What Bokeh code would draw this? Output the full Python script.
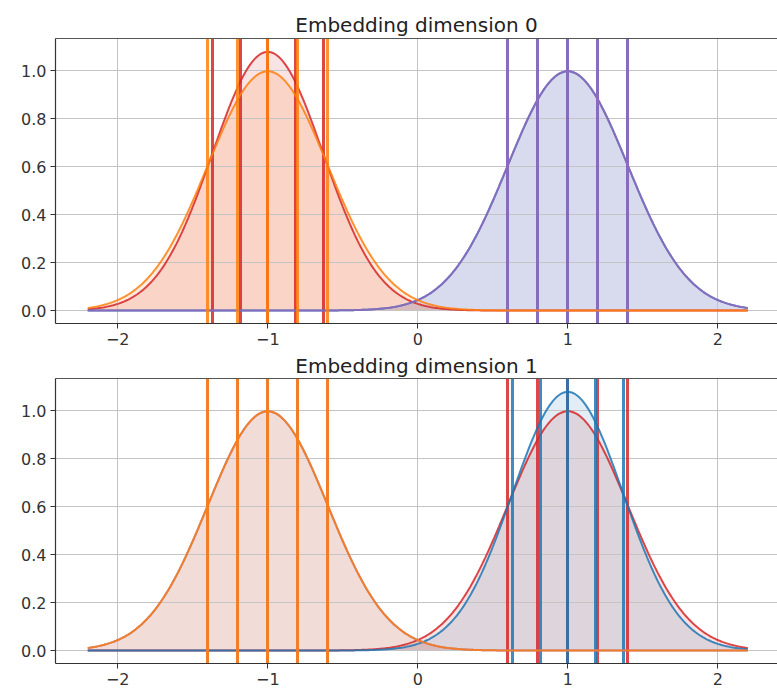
import numpy as np
from bokeh.plotting import figure
from bokeh.models import Range1d, FixedTicker, LinearAxis, Title, PrintfTickFormatter, Grid
from bokeh.layouts import column
from bokeh.embed import file_html
from bokeh.resources import INLINE

# ---- data ----
classes = ["red", "blue", "purple", "orange"]
class_colors = ["#d62728", "#1f77b4", "#9467bd", "#ff7f0e"]
means_dim0 = [-1.0, 1.0, 1.0, -1.0]
sigmas_dim0 = [0.37, 0.40, 0.40, 0.40]
means_dim1 = [1.0, 1.0, -1.0, -1.0]
sigmas_dim1 = [0.40, 0.37, 0.40, 0.40]
line_offsets = [-1.0, -0.5, 0.0, 0.5, 1.0]   # vertical lines at mean + k*sigma
x_ticks = [-2, -1, 0, 1, 2]
y_ticks = [0.0, 0.2, 0.4, 0.6, 0.8, 1.0]
titles = ["Embedding dimension 0", "Embedding dimension 1"]
x_min, x_max = -2.2, 2.2

FONT = "DejaVu Sans"
xs = np.linspace(x_min, x_max, 441)


def pdf(x, mu, s):
    return np.exp(-0.5 * ((x - mu) / s) ** 2) / (s * np.sqrt(2 * np.pi))


def make_panel(title, means, sigmas, top_border, bottom_border, title_standoff):
    p = figure(frame_width=722, frame_height=285,
               x_range=Range1d(-2.415, 2.398), y_range=Range1d(-0.054, 1.134),
               output_backend="svg", toolbar_location=None,
               min_border_left=55, min_border_right=0,
               min_border_top=top_border, min_border_bottom=bottom_border,
               x_axis_type=None, y_axis_type=None)
    p.outline_line_color = None
    p.background_fill_color = "white"
    p.border_fill_color = "white"

    # axes
    xaxis = LinearAxis(ticker=FixedTicker(ticks=x_ticks),
                       major_label_overrides={-2: "\u22122", -1: "\u22121"})
    yaxis = LinearAxis(ticker=FixedTicker(ticks=y_ticks),
                       formatter=PrintfTickFormatter(format="%.1f"))
    for ax in (xaxis, yaxis):
        ax.axis_line_color = "#333333"
        ax.axis_line_width = 1.2
        ax.major_tick_line_color = "#333333"
        ax.major_tick_out = 5
        ax.major_tick_in = 0
        ax.minor_tick_out = 0
        ax.minor_tick_in = 0
        ax.major_label_text_font = FONT
        ax.major_label_text_font_size = "16px"
        ax.major_label_text_color = "#333333"
        ax.major_label_standoff = 4
    p.add_layout(xaxis, "below")
    p.add_layout(yaxis, "left")
    top = LinearAxis(ticker=FixedTicker(ticks=[]), major_tick_out=0, major_tick_in=0,
                     minor_tick_out=0, minor_tick_in=0, major_label_standoff=0,
                     major_label_text_font_size="0px",
                     axis_line_color="#555555", axis_line_width=1.2)
    p.add_layout(top, "above")
    p.add_layout(Title(text=title, align="center", text_font=FONT,
                       text_font_size="20px", text_font_style="normal",
                       text_color="#222222", standoff=title_standoff), "above")

    # grid
    gx = Grid(dimension=0, ticker=FixedTicker(ticks=x_ticks),
              grid_line_color="#c4c4c4", grid_line_width=1)
    gy = Grid(dimension=1, ticker=FixedTicker(ticks=y_ticks),
              grid_line_color="#c4c4c4", grid_line_width=1)
    p.add_layout(gx)
    p.add_layout(gy)

    # fills (below everything)
    for mu, s, c in zip(means, sigmas, class_colors):
        p.varea(x=xs, y1=np.zeros_like(xs), y2=pdf(xs, mu, s),
                fill_color=c, fill_alpha=0.13, level="image")

    # curves and vertical lines per class
    for mu, s, c in zip(means, sigmas, class_colors):
        p.line(xs, pdf(xs, mu, s), line_color=c, line_width=2, line_alpha=0.85)
        p.vspan(x=[mu + k * s for k in line_offsets], line_color=c,
                line_width=3, line_alpha=0.85)
    return p


p1 = make_panel(titles[0], means_dim0, sigmas_dim0, 38, 28, 3)
p2 = make_panel(titles[1], means_dim1, sigmas_dim1, 25, 28, 1)
layout = column(p1, p2, spacing=0)

open("out.html", "w").write(file_html(layout, INLINE))
